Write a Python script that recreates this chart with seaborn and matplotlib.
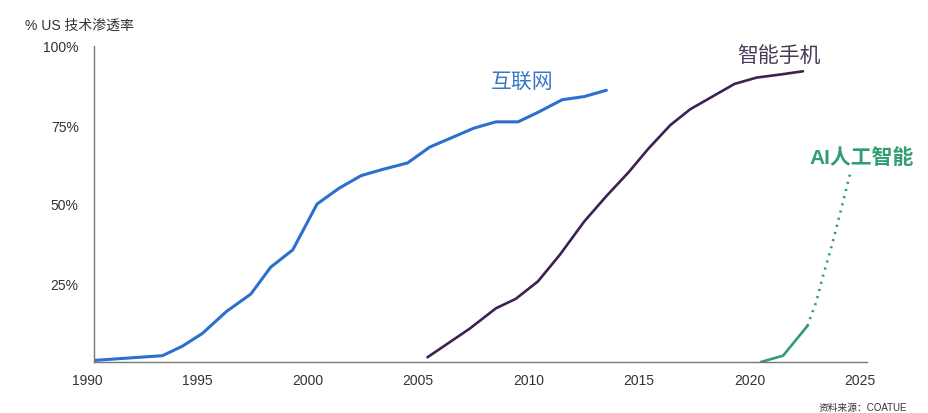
import pandas as pd
import matplotlib.pyplot as plt
import matplotlib.transforms as mtransforms
import seaborn as sns

# data (% of US adoption)
internet_year = [1990, 1993.1, 1994.0, 1994.9, 1996.0, 1997.1, 1998.0, 1999.0, 2000.1,
                 2001.1, 2002.1, 2003.1, 2004.2, 2005.2, 2006.2, 2007.2, 2008.2, 2009.2,
                 2010.1, 2011.2, 2012.2, 2013.2]
internet_pct = [0.5, 2, 5, 9, 16, 21.5, 30, 35.5, 50,
                55, 59, 61, 63, 68, 71, 74, 76, 76,
                79, 83, 84, 86]

phone_year = [2005.1, 2007.0, 2008.2, 2009.1, 2010.1, 2011.1, 2012.2, 2013.2, 2014.2,
              2015.1, 2016.1, 2017.0, 2018.0, 2019.0, 2020.0, 2021.1, 2022.1]
phone_pct = [1.5, 10.5, 17, 20, 25.5, 34, 44.5, 52.5, 60,
             67.5, 75, 80, 84, 88, 90, 91, 92]

ai_year = [2020.2, 2021.2, 2022.3]
ai_pct = [0, 2, 11.4]

ai_proj_year = [2022.3, 2022.7, 2023.0, 2023.4, 2023.8, 2024.25]
ai_proj_pct = [11.4, 19, 27, 36.7, 47.5, 60]

x_ticks = [1990, 1995, 2000, 2005, 2010, 2015, 2020, 2025]
y_ticks = [25, 50, 75, 100]

blue = '#2c6fcf'
purple = '#3d2150'
green = '#2f9e70'

sns.set_style('white')
plt.rcParams['font.family'] = ['Liberation Sans', 'Noto Sans CJK SC', 'DejaVu Sans']

fig = plt.figure(figsize=(9.29, 4.14), dpi=100)
ax = fig.add_axes([94 / 929, 51 / 414, (867 - 94) / 929, (363 - 47) / 414])

sns.lineplot(x=internet_year, y=internet_pct, ax=ax, color=blue, linewidth=2.2)
sns.lineplot(x=phone_year, y=phone_pct, ax=ax, color=purple, linewidth=1.9)
sns.lineplot(x=ai_year, y=ai_pct, ax=ax, color=green, linewidth=1.9)
sns.lineplot(x=ai_proj_year, y=ai_proj_pct, ax=ax, color=green, linewidth=1.9,
             dashes=False, linestyle=(0, (0.8, 2.0)))

ax.set_xlim(1990, 2025)
ax.set_ylim(0, 100)
ax.set_xticks(x_ticks)
ax.set_yticks(y_ticks)
ax.set_yticklabels([f'{v}%' for v in y_ticks])
ax.tick_params(axis='both', length=0, labelsize=10, colors='#333333')
ax.tick_params(axis='y', pad=11)
ax.tick_params(axis='x', pad=8)
offset = mtransforms.ScaledTranslation(-7 / 100, 0, fig.dpi_scale_trans)
for lbl in ax.get_xticklabels():
    lbl.set_transform(lbl.get_transform() + offset)

sns.despine(ax=ax)
for side in ['left', 'bottom']:
    ax.spines[side].set_color('#777777')
    ax.spines[side].set_linewidth(1.0)

ax.text(2009.4, 88.5, '互联网', color='#3a78c8', fontsize=15, ha='center', va='center')
ax.text(2021.0, 97, '智能手机', color='#4a3a58', fontsize=15, ha='center', va='center')
ax.text(2024.75, 65, 'AI人工智能', color=green, fontsize=15, fontweight='bold',
        ha='center', va='center')

fig.text(25 / 929, 1 - 26 / 414, '% US 技术渗透率', fontsize=10, color='#333333',
         ha='left', va='center')
fig.text(907 / 929, 1 - 408 / 414, '资料来源：COATUE', fontsize=7, color='#333333',
         ha='right', va='center')

fig.savefig('out.png', dpi=100, facecolor='white')
